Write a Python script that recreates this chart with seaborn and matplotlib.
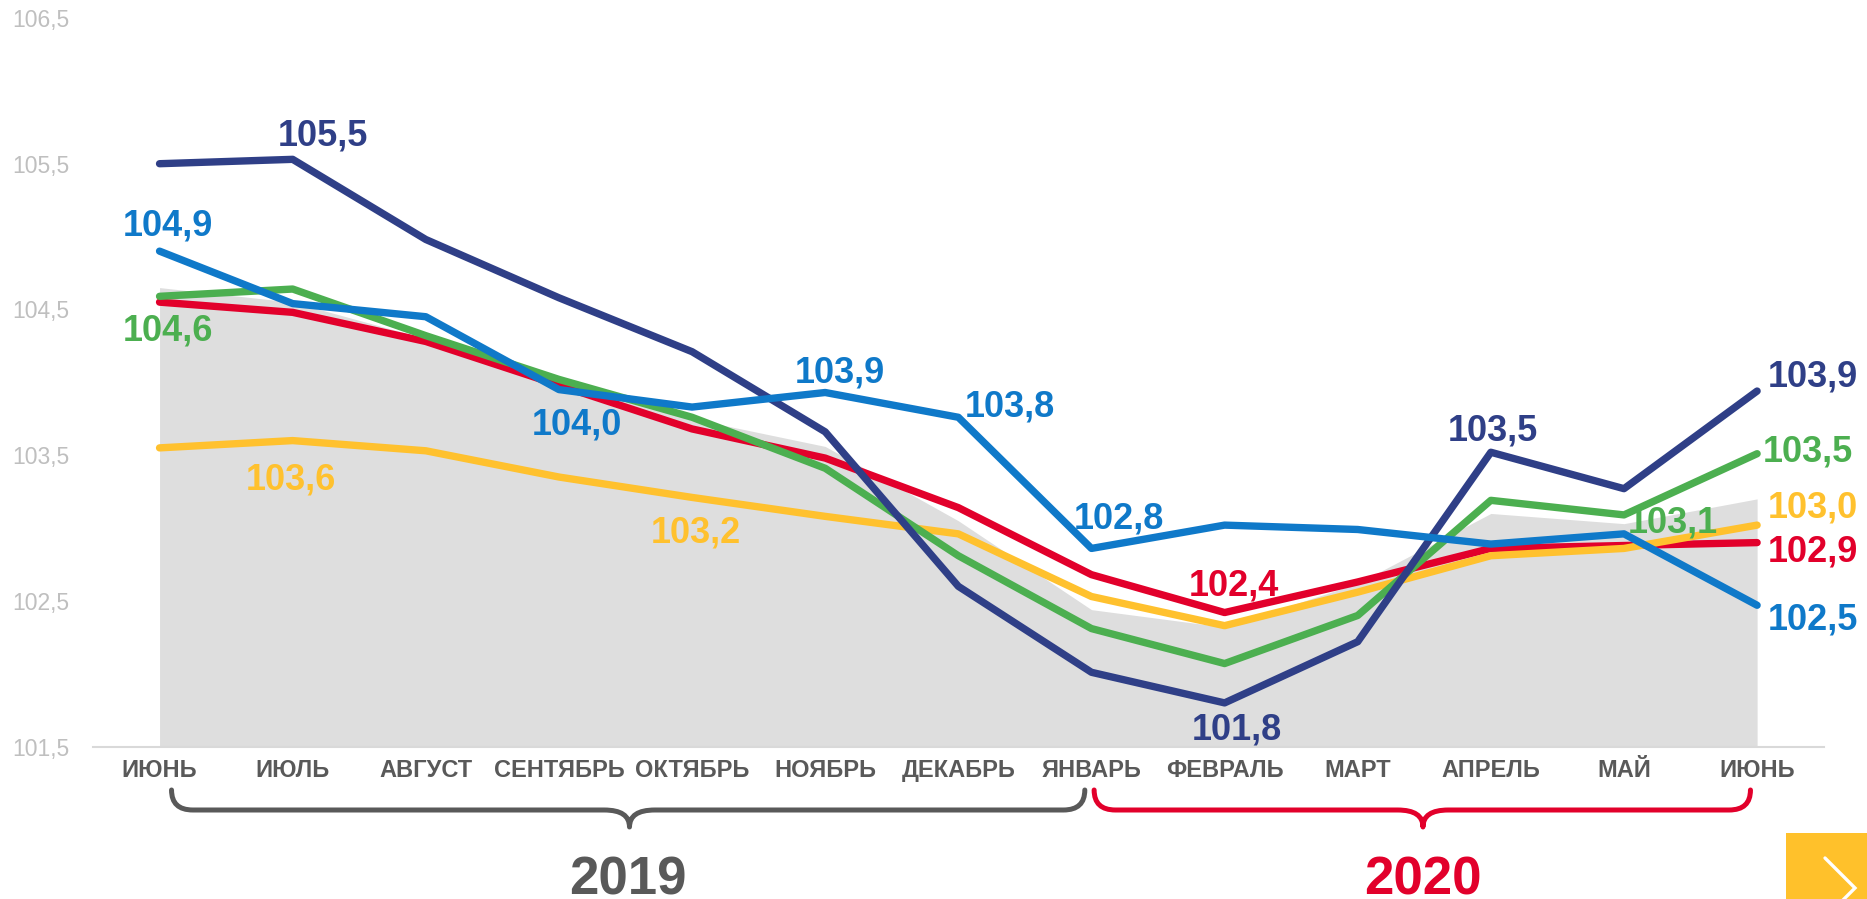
import matplotlib
matplotlib.use("Agg")
import numpy as np
import pandas as pd
import seaborn as sns
import matplotlib.pyplot as plt
from matplotlib.path import Path
from matplotlib.patches import PathPatch, Rectangle
from matplotlib.lines import Line2D
from matplotlib import transforms

# data
months = ['ИЮНЬ', 'ИЮЛЬ', 'АВГУСТ', 'СЕНТЯБРЬ', 'ОКТЯБРЬ', 'НОЯБРЬ', 'ДЕКАБРЬ',
          'ЯНВАРЬ', 'ФЕВРАЛЬ', 'МАРТ', 'АПРЕЛЬ', 'МАЙ', 'ИЮНЬ']
navy = [105.50, 105.53, 104.98, 104.58, 104.21, 103.66, 102.60, 102.01, 101.80, 102.22, 103.52, 103.27, 103.94]
blue = [104.90, 104.54, 104.45, 103.95, 103.83, 103.93, 103.76, 102.86, 103.02, 102.99, 102.89, 102.96, 102.47]
green = [104.59, 104.64, 104.32, 104.02, 103.76, 103.41, 102.81, 102.31, 102.07, 102.40, 103.19, 103.09, 103.51]
red = [104.55, 104.48, 104.28, 103.98, 103.68, 103.48, 103.14, 102.68, 102.42, 102.63, 102.86, 102.88, 102.90]
yellow = [103.55, 103.60, 103.53, 103.35, 103.21, 103.08, 102.96, 102.53, 102.33, 102.56, 102.81, 102.86, 103.02]
gray_area = [104.65, 104.55, 104.30, 104.00, 103.75, 103.56, 103.05, 102.44, 102.32, 102.62, 103.10, 103.03, 103.20]
yticks = [101.5, 102.5, 103.5, 104.5, 105.5, 106.5]
ytick_labels = ['101,5', '102,5', '103,5', '104,5', '105,5', '106,5']

colors = {'navy': '#2F3F87', 'blue': '#0F79C9', 'green': '#4CAF50',
          'red': '#E2002B', 'yellow': '#FFC12E'}
series = {'navy': navy, 'blue': blue, 'green': green, 'red': red, 'yellow': yellow}
draw_order = ['red', 'yellow', 'green', 'navy', 'blue']

# value labels: series, index, text, dx, dy (points, centre of the digits), ha
labels = [
    ('navy', 1, '105,5', 22, 19, 'center'),
    ('blue', 0, '104,9', 6.3, 20.4, 'center'),
    ('green', 0, '104,6', 6.3, -22.8, 'center'),
    ('yellow', 1, '103,6', -1.6, -26, 'center'),
    ('blue', 3, '104,0', 12.7, -22.8, 'center'),
    ('yellow', 4, '103,2', 3, -22.8, 'center'),
    ('blue', 5, '103,9', 10.8, 16.8, 'center'),
    ('blue', 6, '103,8', 37, 10, 'center'),
    ('blue', 7, '102,8', 19.7, 24, 'center'),
    ('red', 8, '102,4', 6.7, 21.3, 'center'),
    ('navy', 8, '101,8', 9, -17, 'center'),
    ('navy', 10, '103,5', 1.8, 18, 'center'),
    ('green', 11, '103,1', 35, -3.6, 'center'),
    ('navy', 12, '103,9', 8, 12.5, 'left'),
    ('green', 12, '103,5', 4.3, 4, 'left'),
    ('yellow', 12, '103,0', 8, 15, 'left'),
    ('red', 12, '102,9', 8, -4.5, 'left'),
    ('blue', 12, '102,5', 8, -8.4, 'left'),
]

idx = np.arange(len(months))
df = pd.DataFrame({
    'x': np.tile(idx, len(draw_order)),
    'value': np.concatenate([series[s] for s in draw_order]),
    'series': np.repeat(draw_order, len(idx)),
})

sns.set_theme(style='white')
plt.rcParams['font.family'] = ['Liberation Sans', 'DejaVu Sans']

W, H = 1867, 899
fig = plt.figure(figsize=(W / 100, H / 100), dpi=100)
ax = fig.add_axes([0.0498, 0.1695, 0.927, 0.8105])

ax.fill_between(idx, 101.5, gray_area, color='#DEDEDE', lw=0, zorder=0.5)
sns.lineplot(data=df, x='x', y='value', hue='series', hue_order=draw_order,
             palette=colors, linewidth=5.3, legend=False, ax=ax,
             solid_capstyle='round', solid_joinstyle='round')

ax.set_xlim(-0.5, 12.5)
ax.set_ylim(101.5, 106.5)
ax.set_xticks(idx, months)
ax.set_yticks(yticks, ytick_labels)
ax.set_xlabel('')
ax.set_ylabel('')
ax.tick_params(axis='x', length=0, pad=9, labelsize=17, labelcolor='#595959')
ax.tick_params(axis='y', length=0, pad=17, labelsize=16.5, labelcolor='#BFBFBF')
for t in ax.get_xticklabels():
    t.set_fontweight('bold')
for s in ['top', 'left', 'right']:
    ax.spines[s].set_visible(False)
ax.spines['bottom'].set_color('#D9D9D9')
ax.spines['bottom'].set_linewidth(1.5)

for name, i, txt, dx, dy, ha in labels:
    ax.annotate(txt, xy=(i, series[name][i]), xytext=(dx, dy - 0.358 * 26),
                textcoords='offset points', ha=ha, va='baseline',
                fontsize=26, fontweight='bold', color=colors[name],
                annotation_clip=False)

# curly braces under the month labels
tr = transforms.blended_transform_factory(ax.transData, fig.transFigure)


def fy(px):
    return 1 - px / H


def brace(x0, x1, xm, color, y_top=790, y_h=810, y_tip=827, rx=0.16, mx=0.19):
    verts = [(x0, fy(y_top)), (x0, fy(y_h)), (x0 + rx, fy(y_h)),
             (xm - mx, fy(y_h)), (xm, fy(y_h)), (xm, fy(y_tip)),
             (xm, fy(y_h)), (xm + mx, fy(y_h)),
             (x1 - rx, fy(y_h)), (x1, fy(y_h)), (x1, fy(y_top))]
    codes = [Path.MOVETO, Path.CURVE3, Path.CURVE3,
             Path.LINETO, Path.CURVE3, Path.CURVE3,
             Path.CURVE3, Path.CURVE3,
             Path.LINETO, Path.CURVE3, Path.CURVE3]
    p = PathPatch(Path(verts, codes), transform=tr, fill=False, edgecolor=color,
                  lw=3.6, capstyle='round', joinstyle='round', clip_on=False)
    fig.add_artist(p)


brace(0.09, 6.95, 3.53, '#595959')
brace(7.02, 11.95, 9.49, '#E2002B')

fig.text(627.5 / W, 0.0045, '2019', ha='center', va='baseline', fontsize=38,
         fontweight='bold', color='#595959')
fig.text(1423 / W, 0.0045, '2020', ha='center', va='baseline', fontsize=38,
         fontweight='bold', color='#E2002B')

# yellow "next" button in the corner
fig.add_artist(Rectangle((1786 / W, 0), (W - 1786) / W, 66 / H,
                         transform=fig.transFigure, color='#FFC12B', lw=0))
fig.add_artist(Line2D([1825 / W, 1855 / W, 1839 / W], [fy(858), fy(888), fy(904)],
                      transform=fig.transFigure, color='white', lw=2.4,
                      solid_capstyle='round', solid_joinstyle='miter'))

fig.savefig('out.png', dpi=100, facecolor='white')
